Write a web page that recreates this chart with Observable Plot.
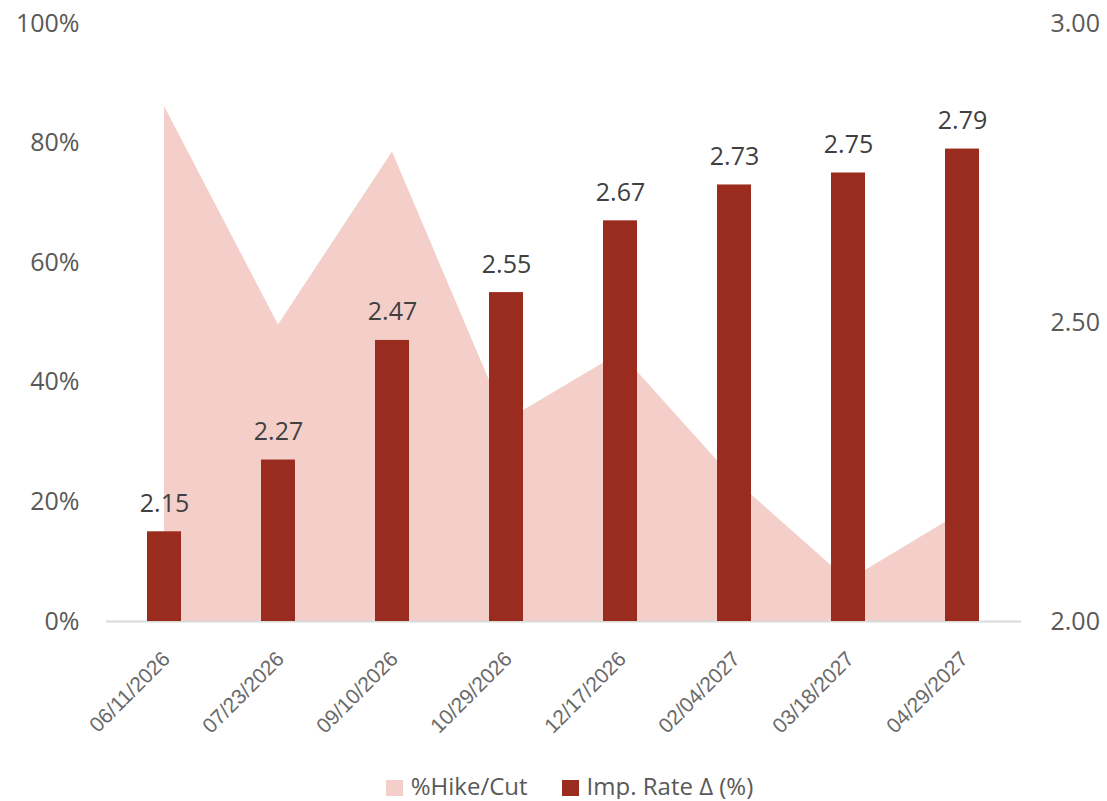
<!DOCTYPE html>
<html>
<head>
<meta charset="utf-8">
<script src="https://cdn.jsdelivr.net/npm/d3@7"></script>
<script src="https://cdn.jsdelivr.net/npm/@observablehq/plot@0.6"></script>
<style>
  html, body { margin: 0; padding: 0; background: #fff; }
  #chart { width: 1107px; }
  .legend { display: flex; justify-content: center; align-items: center; height: 26px; padding-left: 32px;
    font-family: "Open Sans", sans-serif; font-size: 24px; color: #595959; line-height: 26px; }
  .legend .item { display: flex; align-items: center; }
  .legend .sw { width: 17px; height: 16px; margin-right: 8px; margin-top: 4px; }
  .legend .item + .item { margin-left: 34px; }
</style>
</head>
<body>
<div id="chart"></div>
<script>
const dates = ["06/11/2026","07/23/2026","09/10/2026","10/29/2026","12/17/2026","02/04/2027","03/18/2027","04/29/2027"];
const hikeCut = [86.1, 49.6, 78.5, 33.6, 44.9, 23.7, 6.8, 18.3];
const impRate = [2.15, 2.27, 2.47, 2.55, 2.67, 2.73, 2.75, 2.79];
const leftTicks = [0, 20, 40, 60, 80, 100];
const rightTicks = [2.00, 2.50, 3.00];
const seriesNames = ["%Hike/Cut", "Imp. Rate Δ (%)"];
const colors = ["#F4CFCA", "#9A2B1F"];

const rightMin = 2, rightMax = 3;
const toLeft = v => (v - rightMin) / (rightMax - rightMin) * 100;

const data = dates.map((d, i) => ({date: d, hike: hikeCut[i], rate: impRate[i]}));
const font = "'Open Sans', sans-serif";

const chart = Plot.plot({
  width: 1107,
  height: 773,
  marginLeft: 106,
  marginRight: 86,
  marginTop: 23,
  marginBottom: 152,
  style: {fontFamily: font, color: "#595959", background: "#fff"},
  x: {type: "band", domain: dates, paddingInner: 0.7, paddingOuter: 0.35, label: null},
  y: {domain: [0, 100], label: null},
  marks: [
    Plot.areaY(data, {x: "date", y: "hike", fill: colors[0], curve: "linear"}),
    Plot.ruleY([0], {stroke: "#D9D9D9", strokeWidth: 2}),
    Plot.barY(data, {x: "date", y1: 0, y2: d => toLeft(d.rate), fill: colors[1]}),
    Plot.text(data, {x: "date", y: d => toLeft(d.rate), text: d => d.rate.toFixed(2), dy: -28,
      fontSize: 25, fill: "#404040", fontFamily: font}),
    Plot.axisY({anchor: "left", ticks: leftTicks, tickFormat: d => d + "%", tickSize: 0, tickPadding: 27,
      fontSize: 25, fill: "#595959", label: null}),
    Plot.axisY({anchor: "right", ticks: rightTicks.map(toLeft), tickFormat: (d, i) => rightTicks[i].toFixed(2),
      tickSize: 0, tickPadding: 29, fontSize: 25, fill: "#595959", label: null}),
    Plot.axisX({anchor: "bottom", tickSize: 0, tickPadding: 34, tickRotate: -45, textAnchor: "end", dx: 2,
      fontSize: 21, fontFamily: "'Liberation Sans', Arial, sans-serif", fill: "#6a6a6a", label: null})
  ]
});
document.getElementById("chart").appendChild(chart);

const legend = document.createElement("div");
legend.className = "legend";
seriesNames.forEach((name, i) => {
  const item = document.createElement("div");
  item.className = "item";
  const sw = document.createElement("span");
  sw.className = "sw";
  sw.style.background = colors[i];
  const t = document.createElement("span");
  t.textContent = name;
  item.appendChild(sw);
  item.appendChild(t);
  legend.appendChild(item);
});
document.getElementById("chart").appendChild(legend);
</script>
</body>
</html>
